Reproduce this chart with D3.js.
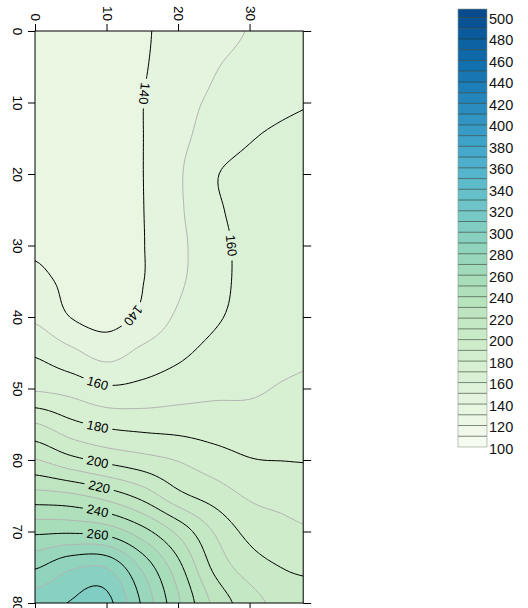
<!DOCTYPE html>
<html><head><meta charset="utf-8">
<script src="https://cdn.jsdelivr.net/npm/d3@7"></script>
<style>body{margin:0;background:#fff} svg{display:block}</style>
</head><body>
<script>
// ---------- data ----------
const xGrid = [0, 5, 10, 15, 20, 25, 30, 35, 40];           // horizontal grid positions
const yGrid = d3.range(0, 81, 5);                             // vertical grid positions 0..80
const zRows = [
  [133, 134, 136, 139, 143, 146.5, 150.5, 154, 156.5],        // y = 0
  [133, 134, 136, 139.3, 144, 149.3, 153, 155.5, 157.5],      // y = 5
  [133, 134, 136, 139.8, 146.5, 151.5, 155, 158, 160],        // y = 10
  [133, 134, 136, 139.8, 147.5, 154, 159.3, 162.5, 164.5],    // y = 15
  [133, 134, 136, 139.8, 148.6, 159, 163.5, 165.5, 167],      // y = 20
  [134, 134.5, 136.5, 139.7, 148.4, 158, 163.5, 166, 167.5],  // y = 25
  [138.5, 136.5, 137, 139.6, 147.7, 156, 163.5, 166.5, 168],  // y = 30
  [142.2, 138, 136.5, 139.7, 148.3, 156, 163.5, 166.5, 168],  // y = 35
  [148.4, 139.8, 136.8, 142, 151.6, 158.4, 163.5, 166, 167.5],// y = 40
  [158.8, 152.5, 146.5, 152.5, 157.8, 163, 166, 167.5, 169],  // y = 45
  [168.7, 166.3, 161.5, 162.8, 165.6, 167.8, 168.5, 171, 172.5], // y = 50
  [190.7, 182.6, 178, 176.5, 176, 175, 174.3, 175.5, 176.5],  // y = 55
  [210.5, 203, 197.5, 193.5, 189.5, 184.5, 180.5, 179.8, 179.5], // y = 60
  [234, 232, 226, 216.5, 203, 195.7, 188.8, 187, 185],        // y = 65
  [258, 258.5, 256, 244, 227.5, 209.5, 197, 192.5, 190.5],    // y = 70
  [279, 288.5, 289.5, 268, 243.5, 218, 205.3, 199.5, 198],    // y = 75
  [295, 300.5, 303, 278.5, 251.8, 228, 214.5, 206, 203]       // y = 80
];
const levels = d3.range(100, 501, 10);
const xTicks = [0, 10, 20, 30];
const yTicks = [0, 10, 20, 30, 40, 50, 60, 70, 80];
const keyTicks = d3.range(100, 501, 20);
const labelHints = [   // level, approximate location of its inline label
  [140, 15.2, 9.0],
  [140, 13.6, 39.4],
  [160, 27.6, 30.2],
  [160, 8.9, 49.3],
  [180, 8.9, 55.6],
  [200, 8.9, 60.3],
  [220, 8.9, 63.9],
  [240, 8.9, 67.4],
  [260, 8.9, 70.6]
];

// ---------- layout ----------
const W = 528, H = 608;
const xs = d3.scaleLinear().domain([0, 37.5]).range([35, 303.2]);
const ys = d3.scaleLinear().domain([0, 80]).range([31, 603]);
const color = v => d3.interpolateGnBu(Math.max(0, Math.min(1, (v - 100) / 420)));
const FONT = "'Liberation Sans', Arial, Helvetica, sans-serif";

const svg = d3.select("body").append("svg").attr("width", W).attr("height", H)
  .style("font-family", FONT);

// ---------- smooth field for rendering (bicubic resampling of the grid) ----------
const nx = xGrid.length, ny = yGrid.length, F = 8;
const fnx = (nx - 1) * F + 1, fny = (ny - 1) * F + 1;
const dx = xGrid[1] - xGrid[0], dy = yGrid[1] - yGrid[0];
function cr(p0, p1, p2, p3, t) {
  return 0.5 * (2 * p1 + (-p0 + p2) * t + (2 * p0 - 5 * p1 + 4 * p2 - p3) * t * t + (-p0 + 3 * p1 - 3 * p2 + p3) * t * t * t);
}
function g(i, j) { i = Math.max(0, Math.min(nx - 1, i)); j = Math.max(0, Math.min(ny - 1, j)); return zRows[j][i]; }
function sample(fx, fy) {
  const i = Math.min(Math.floor(fx), nx - 2), j = Math.min(Math.floor(fy), ny - 2);
  const tx = fx - i, ty = fy - j, c = [];
  for (let m = -1; m <= 2; m++) c.push(cr(g(i - 1, j + m), g(i, j + m), g(i + 1, j + m), g(i + 2, j + m), tx));
  return cr(c[0], c[1], c[2], c[3], ty);
}
const values = new Array(fnx * fny);
for (let j = 0; j < fny; j++) for (let i = 0; i < fnx; i++) values[j * fnx + i] = sample(i / F, j / F);

const contours = d3.contours().size([fnx, fny]).thresholds(levels)(values);
const toPx = (cx, cy) => [xs(xGrid[0] + (cx - 0.5) * dx / F), ys(yGrid[0] + (cy - 0.5) * dy / F)];
const proj = d3.geoTransform({ point(cx, cy) { const p = toPx(cx, cy); this.stream.point(p[0], p[1]); } });
const path = d3.geoPath(proj);

const defs = svg.append("defs");
defs.append("clipPath").attr("id", "plotclip").append("rect")
  .attr("x", xs(0)).attr("y", ys(0)).attr("width", xs(37.5) - xs(0)).attr("height", ys(80) - ys(0));

const plot = svg.append("g").attr("clip-path", "url(#plotclip)");
plot.append("g").selectAll("path").data(contours).join("path")
  .attr("d", path).attr("fill", d => color(d.value + 5)).attr("stroke", "none");

// ---------- labels (positions snapped onto computed contour lines) ----------
const labels = [];
labelHints.forEach(([lev, hx, hy]) => {
  const c = contours.find(d => d.value === lev);
  if (!c) return;
  const hp = [xs(hx), ys(hy)];
  let best = null;
  c.coordinates.forEach(poly => poly.forEach(ring => {
    const pts = ring.map(p => toPx(p[0], p[1]));
    pts.forEach((p, k) => {
      if (p[0] < xs(0) + 2 || p[0] > xs(37.5) - 2 || p[1] < ys(0) + 2 || p[1] > ys(80) - 2) return;
      const d2 = (p[0] - hp[0]) ** 2 + (p[1] - hp[1]) ** 2;
      if (!best || d2 < best.d2) best = { d2, pts, k };
    });
  }));
  if (!best) return;
  const n = best.pts.length, s = 3;
  const a = best.pts[(best.k - s + n) % n], b = best.pts[(best.k + s) % n];
  let ang = Math.atan2(b[1] - a[1], b[0] - a[0]) * 180 / Math.PI;
  while (ang <= -5) ang += 180;
  while (ang > 175) ang -= 180;
  labels.push({ lev, x: best.pts[best.k][0], y: best.pts[best.k][1], ang });
});

const mask = defs.append("mask").attr("id", "gapmask").attr("maskUnits", "userSpaceOnUse")
  .attr("x", 0).attr("y", 0).attr("width", W).attr("height", H);
mask.append("rect").attr("x", 0).attr("y", 0).attr("width", W).attr("height", H).attr("fill", "#fff");
mask.selectAll("rect.gap").data(labels).join("rect").attr("class", "gap")
  .attr("x", -15).attr("y", -6).attr("width", 30).attr("height", 12).attr("fill", "#000")
  .attr("transform", d => `translate(${d.x},${d.y}) rotate(${d.ang})`);

plot.append("g").attr("mask", "url(#gapmask)").selectAll("path")
  .data(contours.filter(d => d.value > 100)).join("path")
  .attr("d", path).attr("fill", "none")
  .attr("stroke", d => d.value % 20 === 0 ? "#000" : "#b3b3b3")
  .attr("stroke-width", 1);

plot.append("g").selectAll("text").data(labels).join("text")
  .attr("transform", d => `translate(${d.x},${d.y}) rotate(${d.ang})`)
  .attr("text-anchor", "middle").attr("dominant-baseline", "central")
  .attr("font-size", 13).attr("fill", "#000").text(d => d.lev);

// ---------- frame and axes ----------
svg.append("rect").attr("x", xs(0)).attr("y", ys(0))
  .attr("width", xs(37.5) - xs(0)).attr("height", ys(80) - ys(0))
  .attr("fill", "none").attr("stroke", "#000").attr("stroke-width", 1);

const TL = 7;
const axT = svg.append("g").attr("transform", `translate(0,${ys(0)})`)
  .call(d3.axisTop(xs).tickValues(xTicks).tickSize(TL).tickSizeOuter(0));
const axB = svg.append("g").attr("transform", `translate(0,${ys(80)})`)
  .call(d3.axisBottom(xs).tickValues(xTicks).tickSize(TL).tickSizeOuter(0).tickFormat(""));
const axL = svg.append("g").attr("transform", `translate(${xs(0)},0)`)
  .call(d3.axisLeft(ys).tickValues(yTicks).tickSize(TL).tickSizeOuter(0));
const axR = svg.append("g").attr("transform", `translate(${xs(37.5)},0)`)
  .call(d3.axisRight(ys).tickValues(yTicks).tickSize(TL + 1).tickSizeOuter(0).tickFormat(""));
[axT, axB, axL, axR].forEach(a => {
  a.select(".domain").remove();
  a.selectAll(".tick line").attr("stroke", "#000");
  a.selectAll("text").attr("font-family", FONT).attr("font-size", 13.5).attr("fill", "#000");
});
axT.selectAll(".tick text").attr("x", null).attr("y", null).attr("dy", null)
  .attr("transform", "translate(0,-10) rotate(90)")
  .attr("text-anchor", "end").attr("dominant-baseline", "central");
axL.selectAll(".tick text").attr("x", null).attr("y", null).attr("dy", null)
  .attr("transform", "translate(-22,0) rotate(90)")
  .attr("text-anchor", "middle").attr("dominant-baseline", "alphabetic");

// ---------- colour key ----------
const ky = d3.scaleLinear().domain([100, 500]).range([447, 17.5]);
const kx0 = 458, kx1 = 487;
const key = svg.append("g");
const bands = d3.range(100, 501, 10);
key.selectAll("rect.band").data(bands).join("rect").attr("class", "band")
  .attr("x", kx0).attr("width", kx1 - kx0)
  .attr("y", d => d === 500 ? 9 : ky(d + 10))
  .attr("height", d => d === 500 ? ky(500) - 9 : ky(d) - ky(d + 10))
  .attr("fill", d => color(d + 5));
key.selectAll("line.sep").data(d3.range(110, 501, 10)).join("line").attr("class", "sep")
  .attr("x1", kx0).attr("x2", kx1).attr("y1", d => ky(d)).attr("y2", d => ky(d))
  .attr("stroke", "#1d2b1d").attr("stroke-opacity", 0.7).attr("stroke-width", 0.8);
key.append("rect").attr("x", kx0).attr("y", 9).attr("width", kx1 - kx0).attr("height", ky(100) - 9)
  .attr("fill", "none").attr("stroke", "#8a9a8a").attr("stroke-width", 0.6);
key.selectAll("text").data(keyTicks).join("text")
  .attr("x", 489).attr("y", d => ky(d) + 1.5)
  .attr("dominant-baseline", "central").attr("font-size", 14.5).attr("fill", "#111")
  .text(d => d);
</script>
</body></html>
